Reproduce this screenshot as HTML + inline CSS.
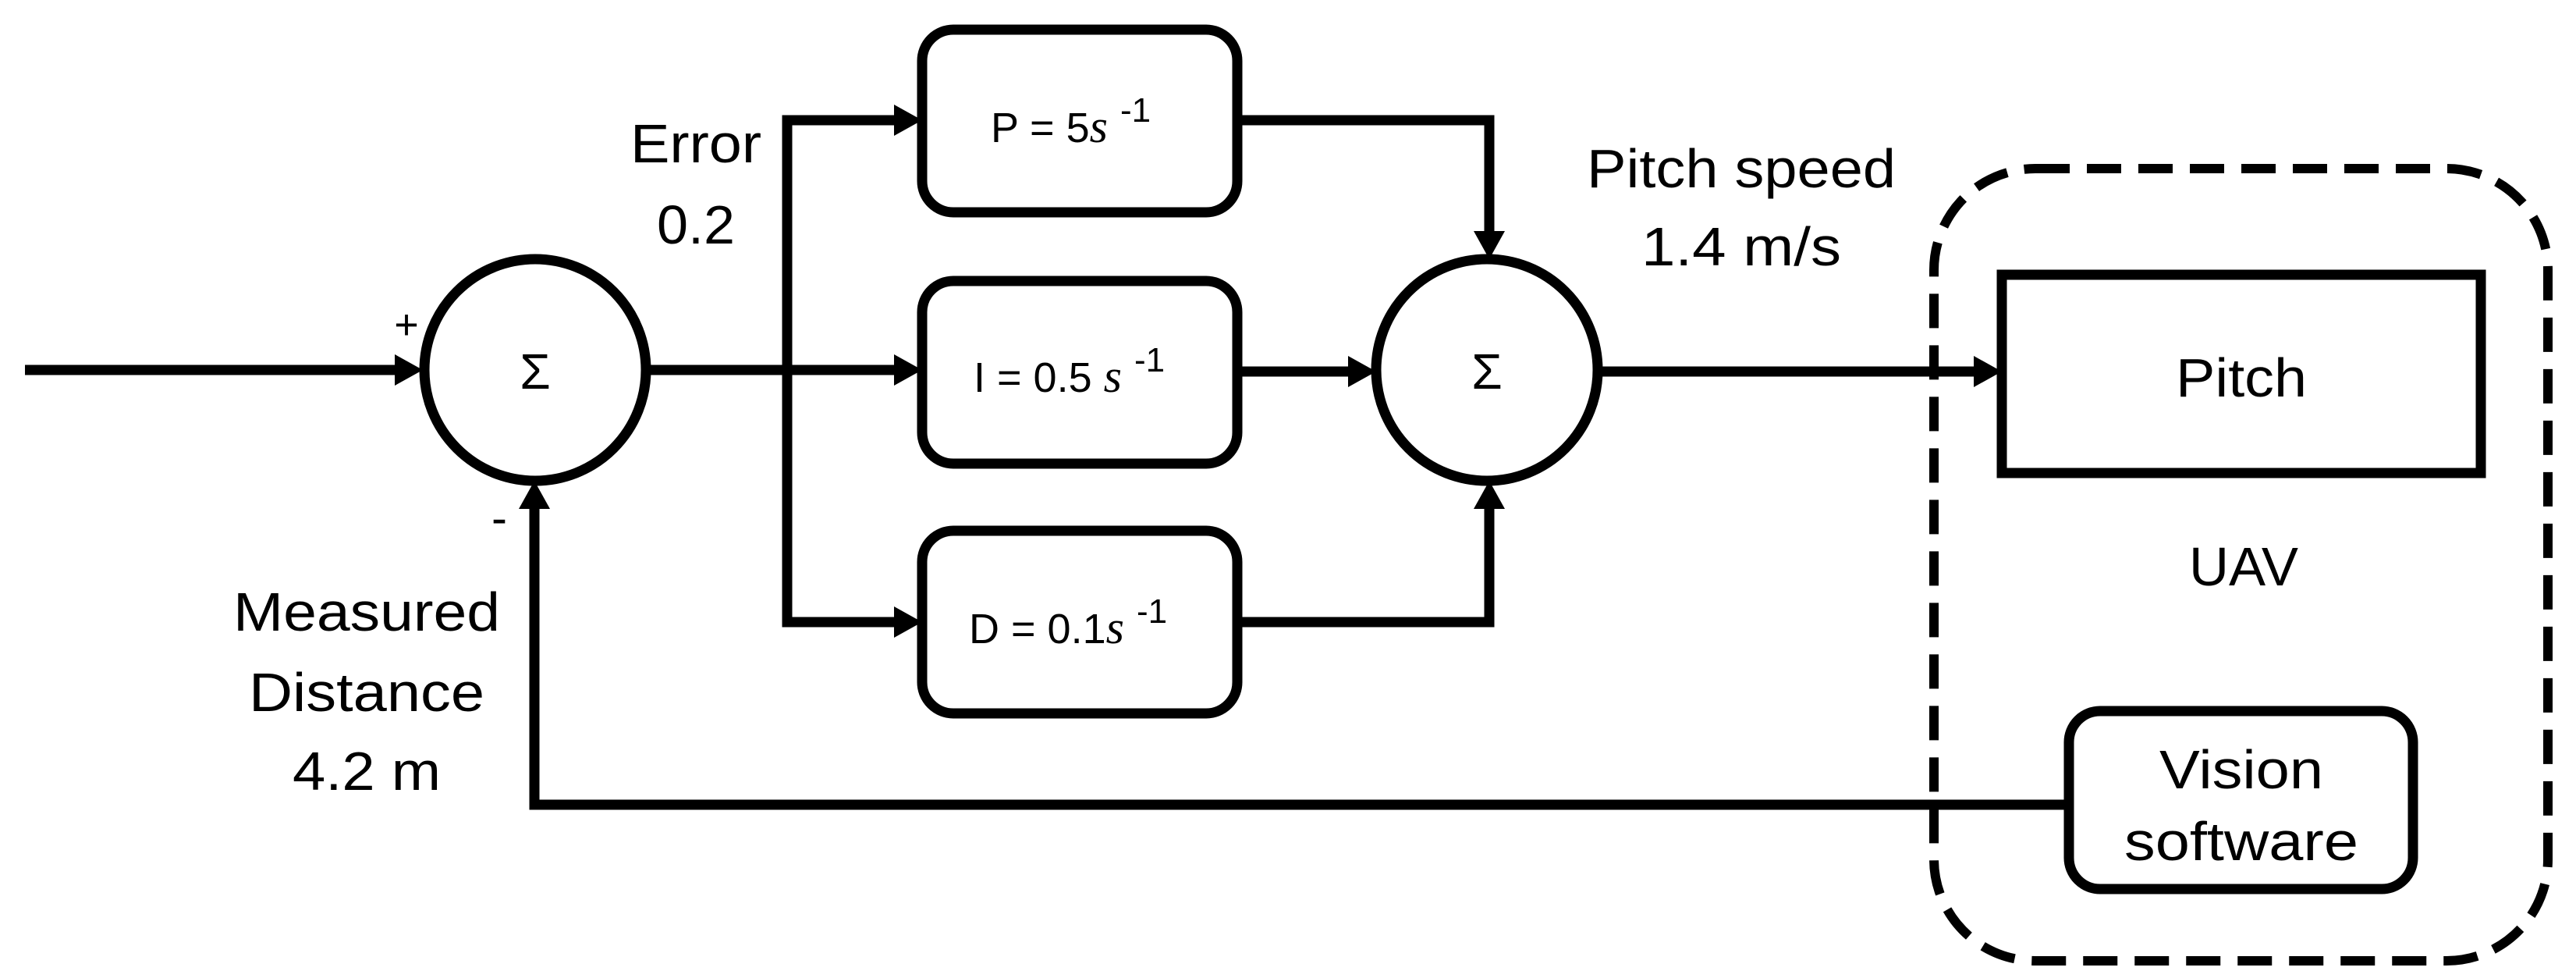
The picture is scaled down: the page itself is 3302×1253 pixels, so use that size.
<!DOCTYPE html>
<html><head><meta charset="utf-8"><style>
html,body{margin:0;padding:0;background:#fff;}
svg{display:block;}
text{font-family:"Liberation Sans",sans-serif;fill:#000;}
</style></head><body>
<svg width="3302" height="1253" viewBox="0 0 3302 1253" xmlns="http://www.w3.org/2000/svg">
<g fill="none" stroke="#000" stroke-width="13">
<line x1="32" y1="474" x2="510" y2="474"/>
<circle cx="686" cy="474" r="142"/>
<line x1="828" y1="474" x2="1150" y2="474"/>
<polyline points="1150,154 1009,154 1009,797 1150,797"/>
<rect x="1182" y="38" width="404" height="234" rx="40"/>
<rect x="1182" y="360" width="404" height="234" rx="40"/>
<rect x="1182" y="680" width="404" height="234" rx="40"/>
<polyline points="1586,154 1909,154 1909,300"/>
<line x1="1586" y1="476" x2="1730" y2="476"/>
<polyline points="1586,797 1909,797 1909,650"/>
<circle cx="1906" cy="474" r="142"/>
<line x1="2048" y1="476" x2="2535" y2="476"/>
<rect x="2566" y="352" width="614" height="254"/>
<rect x="2652" y="911" width="441" height="228" rx="40"/>
<polyline points="2652,1031 685,1031 685,650"/>
<rect x="2479" y="216" width="787" height="1015" rx="130" stroke-dasharray="44,22" stroke-width="12"/>
</g>
<g fill="#000">
<polygon points="542,474 506,454 506,494"/>
<polygon points="1182,154 1146,134 1146,174"/>
<polygon points="1182,474 1146,454 1146,494"/>
<polygon points="1182,797 1146,777 1146,817"/>
<polygon points="1909,332 1889,296 1929,296"/>
<polygon points="1764,476 1728,456 1728,496"/>
<polygon points="1909,616 1889,652 1929,652"/>
<polygon points="2566,476 2530,456 2530,496"/>
<polygon points="685,616 665,652 705,652"/>
</g>
<g font-size="70" text-anchor="middle">
<text x="686" y="498" font-size="64">Σ</text>
<text x="1906" y="498" font-size="64">Σ</text>
<text x="521" y="434" font-size="54">+</text>
<text x="640" y="684" font-size="60">-</text>
<text x="892" y="208" textLength="168" lengthAdjust="spacingAndGlyphs">Error</text>
<text x="892" y="312" textLength="100" lengthAdjust="spacingAndGlyphs">0.2</text>
<text x="470" y="808" textLength="342" lengthAdjust="spacingAndGlyphs">Measured</text>
<text x="470" y="911" textLength="302" lengthAdjust="spacingAndGlyphs">Distance</text>
<text x="470" y="1012" textLength="190" lengthAdjust="spacingAndGlyphs">4.2 m</text>
<text x="2232" y="240" textLength="396" lengthAdjust="spacingAndGlyphs">Pitch speed</text>
<text x="2232" y="340" textLength="256" lengthAdjust="spacingAndGlyphs">1.4 m/s</text>
<text x="2873" y="508" textLength="168" lengthAdjust="spacingAndGlyphs">Pitch</text>
<text x="2876" y="750" textLength="140" lengthAdjust="spacingAndGlyphs">UAV</text>
<text x="2873" y="1010" textLength="210" lengthAdjust="spacingAndGlyphs">Vision</text>
<text x="2873" y="1102" textLength="300" lengthAdjust="spacingAndGlyphs">software</text>
</g>
<g font-size="54">
<text x="1270" y="182">P = 5<tspan font-family="Liberation Serif" font-style="italic" font-size="60">s</tspan><tspan dx="16" dy="-26" font-size="44">-1</tspan></text>
<text x="1248" y="502">I = 0.5 <tspan font-family="Liberation Serif" font-style="italic" font-size="60">s</tspan><tspan dx="16" dy="-26" font-size="44">-1</tspan></text>
<text x="1242" y="824">D = 0.1<tspan font-family="Liberation Serif" font-style="italic" font-size="60">s</tspan><tspan dx="16" dy="-26" font-size="44">-1</tspan></text>
</g>
</svg>
</body></html>
